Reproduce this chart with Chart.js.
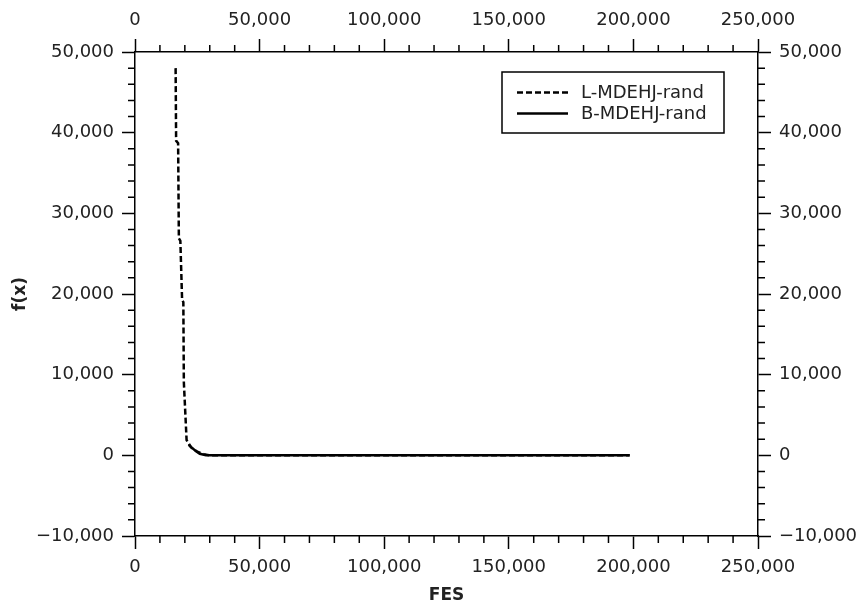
<!DOCTYPE html>
<html>
<head>
<meta charset="utf-8">
<script src="https://cdn.jsdelivr.net/npm/chart.js@4/dist/chart.umd.min.js"></script>
<style>
  html, body { margin: 0; padding: 0; background: #fff; }
  canvas { display: block; }
</style>
</head>
<body>
<canvas id="conv" width="859" height="606"></canvas>
<script>
// convergence curves: function evaluations vs best f(x)
const seriesNames = ['L-MDEHJ-rand', 'B-MDEHJ-rand'];

const lFes = [16300, 16500, 17300, 17600, 18200, 18900, 19400, 19600, 20700, 22500, 25000, 27500, 30000, 198500];
const lFx  = [48000, 39000, 38700, 26900, 26600, 19250, 19000, 9080, 1900, 1000, 450, 150, 0, 0];

const bFes = [21500, 23000, 24500, 26000, 28500, 198500];
const bFx  = [1300, 900, 500, 200, 0, 0];

const xTicks = [0, 50000, 100000, 150000, 200000, 250000];
const yTicks = [-10000, 0, 10000, 20000, 30000, 40000, 50000];

const FONT = 'DejaVu Sans';
const INK = '#000';
const TEXT = '#222';

function toPoints(xs, ys) {
  return xs.map((x, i) => ({ x: x, y: ys[i] }));
}

function fmt(v) {
  return v.toLocaleString('en-US').replace('-', '\u2212');
}

// fixed gutters so the plot box lands where it should
const gutter = { left: 135, right: 101, top: 52, bottom: 70 };

function axis(position, min, max, ticks, extra) {
  return Object.assign({
    type: 'linear',
    position: position,
    min: min,
    max: max,
    afterBuildTicks: (s) => { s.ticks = ticks.map(v => ({ value: v })); },
    afterFit: (s) => {
      if (position === 'left' || position === 'right') s.width = gutter[position];
      else s.height = gutter[position];
    },
    border: { display: true, color: INK, width: 1.5 },
    grid: {
      display: true,
      drawOnChartArea: false,
      drawTicks: true,
      tickLength: 13,
      tickWidth: 1.5,
      tickColor: INK
    },
    ticks: {
      color: TEXT,
      font: { family: FONT, size: 18 },
      padding: 8,
      maxRotation: 0,
      autoSkip: false,
      callback: (v) => fmt(v)
    }
  }, extra || {});
}

// short outward ticks between the labelled ones
const minorTicks = {
  id: 'minorTicks',
  afterDraw(chart) {
    const ctx = chart.ctx;
    const area = chart.chartArea;
    const len = 7;
    ctx.save();
    ctx.strokeStyle = INK;
    ctx.lineWidth = 1.5;
    ctx.beginPath();
    [['x', 10000, 50000], ['x2', 10000, 50000]].forEach(([id, step, major]) => {
      const s = chart.scales[id];
      for (let v = s.min; v <= s.max; v += step) {
        if (v % major === 0) continue;
        const px = s.getPixelForValue(v);
        const y0 = s.position === 'bottom' ? area.bottom : area.top;
        const dir = s.position === 'bottom' ? 1 : -1;
        ctx.moveTo(px, y0);
        ctx.lineTo(px, y0 + dir * len);
      }
    });
    [['y', 2000, 10000], ['y2', 2000, 10000]].forEach(([id, step, major]) => {
      const s = chart.scales[id];
      for (let v = s.min; v <= s.max; v += step) {
        if (v % major === 0) continue;
        const py = s.getPixelForValue(v);
        const x0 = s.position === 'left' ? area.left : area.right;
        const dir = s.position === 'left' ? -1 : 1;
        ctx.moveTo(x0, py);
        ctx.lineTo(x0 + dir * len, py);
      }
    });
    ctx.stroke();
    ctx.restore();
  }
};

// boxed legend in the upper right of the plot
const boxLegend = {
  id: 'boxLegend',
  afterDraw(chart) {
    const ctx = chart.ctx;
    const box = { x: 502, y: 72, w: 222, h: 61 };
    ctx.save();
    ctx.fillStyle = '#fff';
    ctx.fillRect(box.x, box.y, box.w, box.h);
    ctx.strokeStyle = INK;
    ctx.lineWidth = 1.5;
    ctx.strokeRect(box.x, box.y, box.w, box.h);
    ctx.font = '18px "' + FONT + '"';
    ctx.textBaseline = 'middle';
    ctx.textAlign = 'left';
    chart.data.datasets.forEach((ds, i) => {
      const y = 92.5 + i * 21;
      ctx.strokeStyle = ds.borderColor;
      ctx.lineWidth = ds.borderWidth;
      ctx.setLineDash(ds.borderDash || []);
      ctx.beginPath();
      ctx.moveTo(517, y);
      ctx.lineTo(568, y);
      ctx.stroke();
      ctx.setLineDash([]);
      ctx.fillStyle = TEXT;
      ctx.fillText(ds.label, 581, y + 1);
    });
    ctx.restore();
  }
};

new Chart(document.getElementById('conv'), {
  type: 'line',
  data: {
    datasets: [
      {
        label: seriesNames[0],
        data: toPoints(lFes, lFx),
        borderColor: INK,
        borderWidth: 2.5,
        borderDash: [6, 3],
        pointRadius: 0,
        tension: 0,
        fill: false
      },
      {
        label: seriesNames[1],
        data: toPoints(bFes, bFx),
        borderColor: INK,
        borderWidth: 2.5,
        pointRadius: 0,
        tension: 0,
        fill: false,
        order: -1
      }
    ]
  },
  options: {
    responsive: false,
    animation: false,
    layout: { padding: 0 },
    plugins: {
      legend: { display: false },
      tooltip: { enabled: false }
    },
    scales: {
      x: axis('bottom', 0, 250000, xTicks, {
        title: {
          display: true,
          text: 'FES',
          color: TEXT,
          font: { family: FONT, size: 17, weight: 'bold' },
          padding: { top: 0, bottom: 0 }
        }
      }),
      x2: axis('top', 0, 250000, xTicks),
      y: axis('left', -10000, 50000, yTicks, {
        title: {
          display: true,
          text: 'f(x)',
          color: TEXT,
          font: { family: FONT, size: 17, weight: 'bold' },
          padding: { top: 10, bottom: 0 }
        }
      }),
      y2: axis('right', -10000, 50000, yTicks)
    }
  },
  plugins: [minorTicks, boxLegend]
});
</script>
</body>
</html>
